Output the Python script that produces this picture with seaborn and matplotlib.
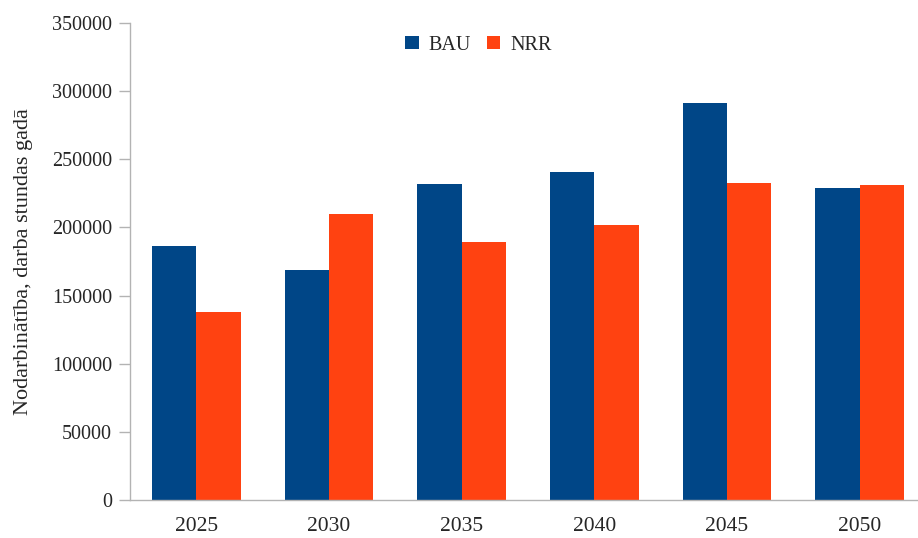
import numpy as np
import pandas as pd
import matplotlib
matplotlib.use("Agg")
import matplotlib.pyplot as plt
import seaborn as sns

years = ["2025", "2030", "2035", "2040", "2045", "2050"]
bau = [186500, 169000, 232000, 241000, 291500, 229000]
nrr = [138000, 209500, 189500, 201500, 232500, 231000]

df = pd.DataFrame({
    "year": years * 2,
    "value": bau + nrr,
    "scenario": ["BAU"] * len(years) + ["NRR"] * len(years),
})

sns.set_style("white")
plt.rcParams['font.family'] = ['Liberation Serif', 'DejaVu Serif']
plt.rcParams['font.size'] = 14.5

fig = plt.figure(figsize=(9.18, 5.38), dpi=100)
ax = fig.add_axes([130 / 918, 1 - 500 / 538, 796 / 918, 477 / 538])

sns.barplot(data=df, x="year", y="value", hue="scenario",
            palette={"BAU": "#004687", "NRR": "#FF4211"},
            width=0.667, gap=0, saturation=1, linewidth=0, ax=ax, legend=True)

ax.set_ylim(0, 350000)
ax.set_xlim(-0.5, 5.5)
ax.set_yticks(np.arange(0, 350001, 50000))
ax.set_yticklabels([str(v) for v in range(0, 350001, 50000)])
ax.set_xlabel("")
ax.set_ylabel("Nodarbinātība, darba stundas gadā", fontsize=16)
ax.yaxis.set_label_coords(-0.122, 0.5)

for s in ["top", "right"]:
    ax.spines[s].set_visible(False)
for s in ["left", "bottom"]:
    ax.spines[s].set_color("#b3b3b3")
    ax.spines[s].set_linewidth(1.0)
ax.spines["left"].set_bounds(0, 350000)

ax.set_xticks(np.arange(-0.5, 5.6, 1.0), minor=True)
ax.tick_params(axis="x", which="major", length=0, pad=12, labelsize=15.5)
ax.tick_params(axis="x", which="minor", length=15, color="#b3b3b3", width=1)
ax.tick_params(axis="y", length=8, color="#b3b3b3", width=1, pad=5, left=True)

leg = ax.legend(loc="center", bbox_to_anchor=(0.438, 1 - 22 / 477), ncol=2, frameon=False,
                handlelength=0.65, handleheight=0.65, handletextpad=0.5,
                columnspacing=0.8, fontsize=14.5)

fig.savefig("out.png", dpi=100)
